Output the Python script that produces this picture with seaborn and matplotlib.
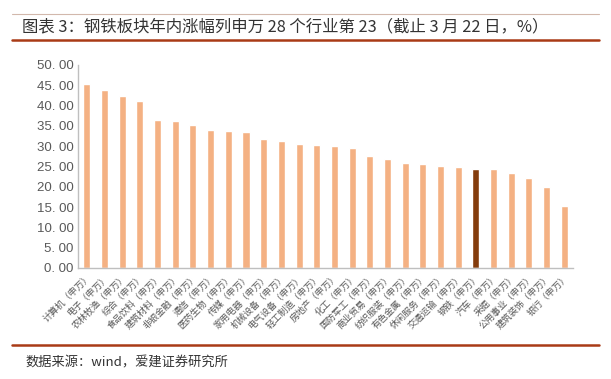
import matplotlib
matplotlib.use("Agg")
import matplotlib.pyplot as plt
from matplotlib.lines import Line2D
import seaborn as sns

# 申万一级行业年内涨幅 (%)
industries = ["计算机", "电子", "农林牧渔", "综合", "食品饮料", "建筑材料", "非银金融",
              "通信", "医药生物", "传媒", "家用电器", "机械设备", "电气设备", "轻工制造",
              "房地产", "化工", "国防军工", "商业贸易", "纺织服装", "有色金属", "休闲服务",
              "交通运输", "钢铁", "汽车", "采掘", "公用事业", "建筑装饰", "银行"]
gains = [45.4, 43.8, 42.4, 41.1, 36.5, 36.2, 35.2, 34.0, 33.7, 33.6,
         31.8, 31.4, 30.5, 30.3, 30.1, 29.6, 27.6, 26.9, 25.9, 25.6,
         25.0, 24.9, 24.4, 24.4, 23.3, 22.1, 19.9, 15.3]
highlight = "钢铁"
yticks = [0, 5, 10, 15, 20, 25, 30, 35, 40, 45, 50]

labels = [f"{name}（申万）" for name in industries]
colors = {lab: ("#843C0C" if name == highlight else "#F4B183")
          for lab, name in zip(labels, industries)}

sns.set_style("white")
plt.rcParams['font.family'] = ['Noto Sans CJK SC', 'DejaVu Sans']

fig = plt.figure(figsize=(6.11, 3.79), dpi=100)
ax = fig.add_axes([0.1277, 0.2929, 0.8103, 0.5356])

sns.barplot(x=labels, y=gains, hue=labels, palette=colors, legend=False,
            width=0.4, saturation=1, ax=ax)

ax.set_ylim(0, 50)
ax.set_xlim(-0.5, len(labels) - 0.5)
ax.set_yticks(yticks)
ax.set_yticklabels([f"{v:.2f}".replace(".", ". ") for v in yticks],
                   fontsize=9.5, color="#595959", family=['Liberation Sans', 'DejaVu Sans'])
ax.set_xticks(range(len(labels)))
ax.set_xticklabels(labels, rotation=45, ha="right", rotation_mode="anchor",
                   fontsize=6.6, color="#595959")
ax.tick_params(axis="both", length=0, pad=3)
for side in ["top", "right"]:
    ax.spines[side].set_visible(False)
for side in ["left", "bottom"]:
    ax.spines[side].set_color("#BFBFBF")
    ax.spines[side].set_linewidth(1.0)
ax.set_xlabel("")
ax.set_ylabel("")

# header / footer rules
fig.add_artist(Line2D([0.02, 0.98], [0.963, 0.963], color="#D2B8AC", linewidth=0.8))
fig.add_artist(Line2D([0.02, 0.98], [0.894, 0.894], color="#A93B16", linewidth=1.8))
fig.add_artist(Line2D([0.02, 0.98], [0.09, 0.09], color="#A93B16", linewidth=1.8))

fig.text(0.036, 0.929, "图表 3：钢铁板块年内涨幅列申万 28 个行业第 23（截止 3 月 22 日，%）",
         fontsize=11.8, color="#333333", va="center", ha="left")
fig.text(0.041, 0.042, "数据来源：wind，爱建证券研究所",
         fontsize=9.5, color="#333333", va="center", ha="left")

fig.savefig("out.png", dpi=100)
